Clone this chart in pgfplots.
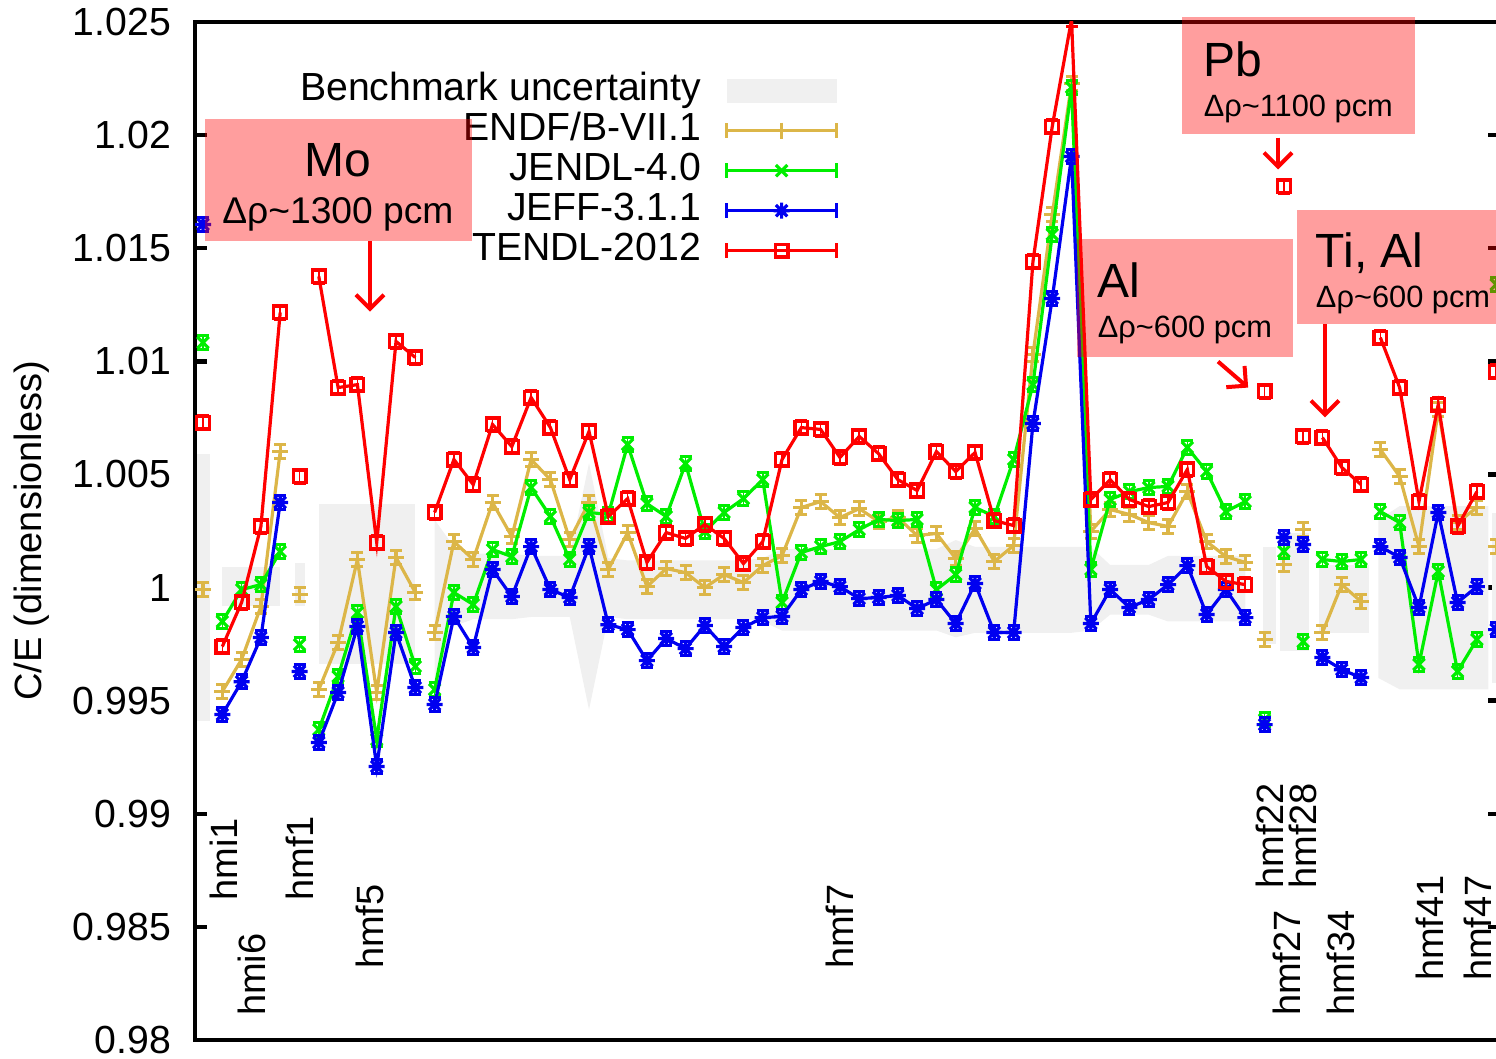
\documentclass[border=0pt]{standalone}
\usepackage{fontspec}
\setmainfont{Liberation Sans}
\usepackage{pgfplots}
\usepackage{pgfplotstable}
\pgfplotsset{compat=1.18}
\usetikzlibrary{arrows.meta}

\definecolor{endf}{RGB}{220,182,72}
\definecolor{jendl}{RGB}{0,238,0}
\definecolor{jeff}{RGB}{0,0,240}
\definecolor{tendl}{RGB}{255,0,0}
\definecolor{band}{RGB}{240,240,240}

% gnuplot style "*" point: plus and cross together
\pgfdeclareplotmark{plusx}{%
  \pgfpathmoveto{\pgfqpoint{-\pgfplotmarksize}{0pt}}\pgfpathlineto{\pgfqpoint{\pgfplotmarksize}{0pt}}%
  \pgfpathmoveto{\pgfqpoint{0pt}{-\pgfplotmarksize}}\pgfpathlineto{\pgfqpoint{0pt}{\pgfplotmarksize}}%
  \pgfpathmoveto{\pgfqpoint{-.7071\pgfplotmarksize}{-.7071\pgfplotmarksize}}\pgfpathlineto{\pgfqpoint{.7071\pgfplotmarksize}{.7071\pgfplotmarksize}}%
  \pgfpathmoveto{\pgfqpoint{-.7071\pgfplotmarksize}{.7071\pgfplotmarksize}}\pgfpathlineto{\pgfqpoint{.7071\pgfplotmarksize}{-.7071\pgfplotmarksize}}%
  \pgfusepathqstroke}

\pgfplotsset{
  errline/.style={line width=0.8pt, mark options={solid},
    error bars/y dir=both, error bars/y fixed=0.0003,
    error bars/error mark options={rotate=90, mark size=1.5pt, line width=0.8pt}},
  errline legend/.style={legend image code/.code={%
    \draw[##1] (0pt,-1.8pt)--(0pt,1.8pt) (27.5pt,-1.8pt)--(27.5pt,1.8pt);
    \draw[mark repeat=2,mark phase=2,##1] plot coordinates {(0pt,0pt) (13.75pt,0pt) (27.5pt,0pt)};}},
  band legend/.style={legend image code/.code={%
    \fill[band] (0pt,-3pt) rectangle (27.5pt,3pt);}},
}

% ENDF/B-VII.1
\pgfplotstableread{
x y
0 0.99991
0.5 nan
1 0.99540
2 0.99682
3 0.99916
4 1.00601
4.5 nan
5 0.99969
5.5 nan
6 0.99549
7 0.99757
8 1.00124
9 0.99536
10 1.00133
11 0.99978
11.5 nan
12 0.99801
13 1.00203
14 1.00124
15 1.00376
16 1.00225
17 1.00566
18 1.00477
19 1.00212
20 1.00376
21 1.00080
22 1.00243
23 1.00004
24 1.00084
25 1.00066
26 1.00000
27 1.00057
28 1.00022
29 1.00097
30 1.00141
31 1.00354
32 1.00380
33 1.00309
34 1.00349
35 1.00292
36 1.00309
37 1.00230
38 1.00239
39 1.00128
40 1.00261
41 1.00115
42 1.00186
43 1.01030
44 1.01649
45 1.02228
46 1.00248
47 1.00345
48 1.00323
49 1.00287
50 1.00270
51 1.00424
52 1.00203
53 1.00137
54 1.00111
54.5 nan
55 0.99770
55.5 nan
56 1.00102
56.5 nan
57 1.00256
57.5 nan
58 0.99801
59 1.00013
60 0.99938
60.5 nan
61 1.00610
62 1.00491
63 1.00181
64 1.00787
65 1.00287
66 1.00354
66.5 nan
67 1.00181
}\endf

% JENDL-4.0
\pgfplotstableread{
x y
0 1.01083
0.5 nan
1 0.99850
2 0.99991
3 1.00013
4 1.00159
4.5 nan
5 0.99748
5.5 nan
6 0.99372
7 0.99607
8 0.99889
9 0.99328
10 0.99916
11 0.99651
11.5 nan
12 0.99549
13 0.99978
14 0.99925
15 1.00168
16 1.00137
17 1.00442
18 1.00314
19 1.00124
20 1.00332
21 1.00323
22 1.00632
23 1.00371
24 1.00314
25 1.00548
26 1.00248
27 1.00332
28 1.00393
29 1.00477
30 0.99934
31 1.00155
32 1.00181
33 1.00203
34 1.00256
35 1.00301
36 1.00296
37 1.00301
38 0.99991
39 1.00057
40 1.00354
41 1.00314
42 1.00566
43 1.00897
44 1.01561
45 1.02211
46 1.00080
47 1.00389
48 1.00424
49 1.00442
50 1.00447
51 1.00619
52 1.00513
53 1.00336
54 1.00380
54.5 nan
55 0.99416
55.5 nan
56 1.00159
56.5 nan
57 0.99761
57.5 nan
58 1.00124
59 1.00115
60 1.00124
60.5 nan
61 1.00336
62 1.00287
63 0.99660
64 1.00071
65 0.99629
66 0.99770
66.5 nan
67 1.01340
}\jendl

% JEFF-3.1.1
\pgfplotstableread{
x y
0 1.01605
0.5 nan
1 0.99439
2 0.99584
3 0.99779
4 1.00376
4.5 nan
5 0.99629
5.5 nan
6 0.99315
7 0.99536
8 0.99828
9 0.99209
10 0.99801
11 0.99558
11.5 nan
12 0.99483
13 0.99872
14 0.99735
15 1.00080
16 0.99960
17 1.00181
18 0.99991
19 0.99956
20 1.00181
21 0.99836
22 0.99814
23 0.99677
24 0.99775
25 0.99730
26 0.99832
27 0.99739
28 0.99823
29 0.99867
30 0.99872
31 0.99991
32 1.00027
33 1.00004
34 0.99951
35 0.99956
36 0.99965
37 0.99907
38 0.99947
39 0.99841
40 1.00018
41 0.99801
42 0.99801
43 1.00725
44 1.01278
45 1.01905
46 0.99841
47 0.99991
48 0.99912
49 0.99947
50 1.00013
51 1.00097
52 0.99881
53 0.99991
54 0.99867
54.5 nan
55 0.99394
55.5 nan
56 1.00221
56.5 nan
57 1.00190
57.5 nan
58 0.99691
59 0.99637
60 0.99602
60.5 nan
61 1.00181
62 1.00133
63 0.99912
64 1.00332
65 0.99934
66 1.00004
66.5 nan
67 0.99814
}\jeff

% TENDL-2012
\pgfplotstableread{
x y
0 1.00729
0.5 nan
1 0.99739
2 0.99934
3 1.00270
4 1.01216
4.5 nan
5 1.00491
5.5 nan
6 1.01375
7 1.00884
8 1.00897
9 1.00199
10 1.01088
11 1.01017
11.5 nan
12 1.00332
13 1.00566
14 1.00455
15 1.00721
16 1.00623
17 1.00840
18 1.00707
19 1.00477
20 1.00690
21 1.00314
22 1.00393
23 1.00111
24 1.00243
25 1.00217
26 1.00279
27 1.00217
28 1.00106
29 1.00203
30 1.00566
31 1.00707
32 1.00699
33 1.00575
34 1.00668
35 1.00592
36 1.00477
37 1.00429
38 1.00601
39 1.00513
40 1.00597
41 1.00296
42 1.00274
43 1.01441
44 1.02038
45 1.02511
46 1.00389
47 1.00477
48 1.00389
49 1.00358
50 1.00376
51 1.00522
52 1.00093
53 1.00027
54 1.00013
54.5 nan
55 1.00867
55.5 nan
56 1.01773
56.5 nan
57 1.00668
57.5 nan
58 1.00663
59 1.00531
60 1.00455
60.5 nan
61 1.01105
62 1.00884
63 1.00380
64 1.00809
65 1.00270
66 1.00424
66.5 nan
67 1.00955
}\tendl

\begin{document}
\begin{tikzpicture}[font=\fontsize{9.3}{11}\selectfont]
\begin{axis}[
    name=ax,
    scale only axis,
    width=326.25pt, height=254.5pt,
    xmin=-0.415, xmax=67.2,
    ymin=0.98, ymax=1.025,
    xtick=\empty,
    ytick={0.98,0.985,0.99,0.995,1,1.005,1.01,1.015,1.02,1.025},
    yticklabel={\pgfmathprintnumber{\tick}},
    /pgf/number format/.cd, fixed, precision=3, assume math mode=true, /pgfplots/.cd,
    yticklabel style={font=\fontsize{9.8}{11}\selectfont, xshift=-2.5pt},
    tick align=inside,
    major tick length=3pt,
    tick style={black, line width=1.1pt},
    axis line style={line width=1.2pt},
    unbounded coords=jump,
    clip mode=individual,
    legend cell align=right,
    legend plot pos=right,
    legend style={at={(rel axis cs:0.4935,0.951)}, anchor=north east,
        draw=none, fill=none, inner sep=0pt, row sep=1pt, column sep=6pt,
        font=\fontsize{9.8}{11}\selectfont,
        nodes={inner sep=0pt, text height=7pt, text depth=2pt}},
]

% benchmark uncertainty band
\addplot[fill=band, draw=none, band legend]
    coordinates {(-0.3,0.9941) (-0.3,1.0059) (0.35,1.0059) (0.35,0.9941)};
\addlegendentry{Benchmark uncertainty}
\addplot[fill=band, draw=none, forget plot]
    coordinates {(1,0.9992) (1,1.0009) (4,1.0009) (4,0.9992)};
\addplot[fill=band, draw=none, forget plot]
    coordinates {(4.75,0.9992) (4.75,1.0011) (5.3,1.0011) (5.3,0.9992)};
\addplot[fill=band, draw=none, forget plot]
    coordinates {(6,0.9966) (6,1.0037) (11,1.0037) (11,0.9966)};
\addplot[fill=band, draw=none, forget plot]
    coordinates {(12,1.0030) (13,1.0018) (14,1.0015) (16,1.0015) (17,1.0014) (19,1.0014)
      (20,1.0055) (21,1.0013) (22,1.0012) (28,1.0012) (29,1.0013) (30,1.0017) (38,1.0017)
      (39,1.0021) (40,1.0018) (46,1.0018) (47,1.0010) (49,1.0010) (50,1.0014) (54,1.0014)
      (54,0.9985) (50,0.9985) (49,0.9988) (47,0.9988) (46,0.9981) (45,0.9980) (40,0.9980)
      (39,0.9978) (38,0.9981) (30,0.9981) (29,0.9985) (28,0.9986) (22,0.9986) (21,0.9987)
      (20,0.9946) (19,0.9987) (17,0.9987) (16,0.9986) (14,0.9986) (13,0.9983) (12,0.9950)};
\addplot[fill=band, draw=none, forget plot]
    coordinates {(54.9,0.9975) (54.9,1.0018) (55.6,1.0018) (55.6,0.9975)};
\addplot[fill=band, draw=none, forget plot]
    coordinates {(55.8,0.9972) (55.8,1.0024) (57.3,1.0024) (57.3,0.9972)};
\addplot[fill=band, draw=none, forget plot]
    coordinates {(57.8,0.9980) (57.8,1.0010) (60.4,1.0010) (60.4,0.9980)};
\addplot[fill=band, draw=none, forget plot]
    coordinates {(60.9,0.9960) (60.9,1.0030) (62,1.0036) (66.6,1.0036) (66.6,0.9955) (62,0.9955)};
\addplot[fill=band, draw=none, forget plot]
    coordinates {(66.8,0.9958) (66.8,1.0033) (67.5,1.0033) (67.5,0.9958)};

\addplot[endf, mark=+, mark size=2pt, errline, errline legend] table {\endf};
\addlegendentry{ENDF/B-VII.1}
\addplot[jendl, mark=x, mark size=2pt, errline, errline legend] table {\jendl};
\addlegendentry{JENDL-4.0}
\addplot[jeff, mark=plusx, mark size=2pt, errline, errline legend] table {\jeff};
\addlegendentry{JEFF-3.1.1}
\addplot[tendl, mark=square, mark size=1.6pt, errline, errline legend] table {\tendl};
\addlegendentry{TENDL-2012}

% benchmark group labels
\begin{scope}[every node/.style={rotate=90, anchor=west, inner sep=0pt, font=\fontsize{9.5}{11}\selectfont}]
\node at (axis cs:1.09,0.98612) {hmi1};
\node at (axis cs:2.54,0.98103) {hmi6};
\node at (axis cs:5.03,0.98612) {hmf1};
\node at (axis cs:8.65,0.98311) {hmf5};
\node at (axis cs:33.0,0.98311) {hmf7};
\node at (axis cs:55.28,0.98665) {hmf22};
\node at (axis cs:57.0,0.98665) {hmf28};
\node at (axis cs:56.17,0.98103) {hmf27};
\node at (axis cs:58.96,0.98103) {hmf34};
\node at (axis cs:63.58,0.98258) {hmf41};
\node at (axis cs:66.06,0.98258) {hmf47};
\end{scope}

% anchor points for the annotations
\coordinate (moA) at (axis cs:0.1,1.02069);
\coordinate (moB) at (axis cs:13.94,1.01530);
\coordinate (moT) at (axis cs:6.99,1.01817);
\coordinate (moS) at (axis cs:6.99,1.01609);
\coordinate (moF) at (axis cs:8.65,1.01530);
\coordinate (moG) at (axis cs:8.65,1.01220);
\coordinate (pbA) at (axis cs:50.73,1.02520);
\coordinate (pbB) at (axis cs:62.80,1.02007);
\coordinate (pbT) at (axis cs:51.81,1.02259);
\coordinate (pbS) at (axis cs:51.81,1.02082);
\coordinate (pbF) at (axis cs:55.70,1.01989);
\coordinate (pbG) at (axis cs:55.70,1.01848);
\coordinate (alA) at (axis cs:45.28,1.01539);
\coordinate (alB) at (axis cs:56.48,1.01021);
\coordinate (alT) at (axis cs:46.32,1.01282);
\coordinate (alS) at (axis cs:46.32,1.01105);
\coordinate (alF) at (axis cs:52.59,1.00999);
\coordinate (alG) at (axis cs:54.15,1.00884);
\coordinate (tiA) at (axis cs:56.68,1.01671);
\coordinate (tiB) at (axis cs:67.3,1.01163);
\coordinate (tiT) at (axis cs:57.62,1.01415);
\coordinate (tiS) at (axis cs:57.62,1.01238);
\coordinate (tiF) at (axis cs:58.13,1.01163);
\coordinate (tiG) at (axis cs:58.13,1.00752);
\end{axis}

\node[rotate=90, font=\fontsize{9.5}{11}\selectfont] at ([xshift=-40.75pt]ax.west) {C/E (dimensionless)};

% annotation boxes
\fill[red, fill opacity=0.38] (moA) rectangle (moB);
\fill[red, fill opacity=0.38] (pbA) rectangle (pbB);
\fill[red, fill opacity=0.38] (alA) rectangle (alB);
\fill[red, fill opacity=0.38] (tiA) rectangle (tiB);
\begin{scope}[every node/.style={inner sep=0pt}]
\node[anchor=base, font=\fontsize{12}{14}\selectfont] at (moT) {Mo};
\node[anchor=base] at (moS) {Δρ\textasciitilde 1300 pcm};
\node[anchor=base west, font=\fontsize{12}{14}\selectfont] at (pbT) {Pb};
\node[anchor=base west, font=\fontsize{7.7}{9}\selectfont] at (pbS) {Δρ\textasciitilde 1100 pcm};
\node[anchor=base west, font=\fontsize{12}{14}\selectfont] at (alT) {Al};
\node[anchor=base west, font=\fontsize{7.7}{9}\selectfont] at (alS) {Δρ\textasciitilde 600 pcm};
\node[anchor=base west, font=\fontsize{12}{14}\selectfont] at (tiT) {Ti, Al};
\node[anchor=base west, font=\fontsize{7.7}{9}\selectfont] at (tiS) {Δρ\textasciitilde 600 pcm};
\end{scope}
\begin{scope}[red, line width=1pt, -{Straight Barb[length=3.5pt,width=7pt]}]
\draw (moF) -- (moG);
\draw (pbF) -- (pbG);
\draw (alF) -- (alG);
\draw (tiF) -- (tiG);
\end{scope}

\pgfresetboundingbox
\path ([xshift=-48.75pt,yshift=-4.5pt]ax.south west) rectangle ([xshift=325.25pt,yshift=5.5pt]ax.north west);
\end{tikzpicture}
\end{document}
